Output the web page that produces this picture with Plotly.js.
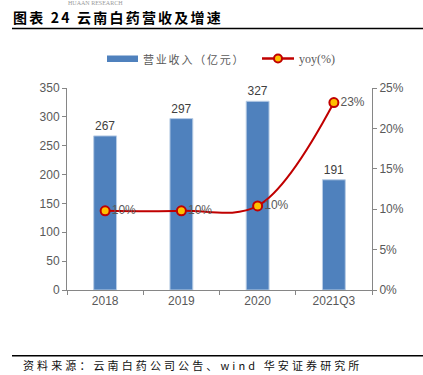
<!DOCTYPE html>
<html><head><meta charset="utf-8">
<script src="https://cdn.plot.ly/plotly-3.0.1.min.js"></script>
<style>html,body{margin:0;padding:0;background:#fff}#c{width:423px;height:375px}</style>
</head><body><div id="c"></div>
<script>
const categories = ['2018', '2019', '2020', '2021Q3'];
const revenue = [267, 297, 327, 191];
const yoy = [9.8, 9.8, 10.4, 23.2];
const yoyLabels = ['10%', '10%', '10%', '23%'];
const revenueName = '营业收入（亿元）';
const yoyName = 'yoy(%)';

const gray = '#595959';
const blue = '#4F81BD';
const red = '#C00000';
const data = [
  {type:'bar', x:categories, y:revenue, name:revenueName, width:0.3,
   marker:{color:blue, line:{color:'#B9CDE5', width:1}},
   text:revenue.map(String), textposition:'outside', cliponaxis:false,
   textfont:{family:'Liberation Sans, Arial', size:12, color:'#404040'}},
  {type:'scatter', x:categories, y:yoy, name:yoyName, yaxis:'y2',
   mode:'lines+markers+text', line:{color:red, width:2, shape:'spline'},
   marker:{color:'#FFC000', size:9, line:{color:red, width:2}},
   text:yoyLabels, textposition:'middle right', cliponaxis:false,
   textfont:{family:'Liberation Sans, Arial', size:12, color:gray}}
];
// paper coordinate helpers (plot area: x 67..372 px, y 88..290 px)
const px = v => (v - 67) / 305;
const py = v => (290 - v) / 202;
const layout = {
  width:423, height:375, margin:{l:67, r:51, t:88, b:85},
  paper_bgcolor:'#fff', plot_bgcolor:'#fff', showlegend:false,
  font:{family:'Liberation Sans, Arial, Noto Sans CJK SC', size:12, color:gray},
  title:{text:'HUAAN RESEARCH', x:68/423, xref:'container', xanchor:'left',
    y:1 - 2.8/375, yref:'container', yanchor:'middle',
    font:{family:'Liberation Serif', size:6, color:'#9a9a9a'}},
  xaxis:{type:'category', showline:true, linecolor:'#868686', linewidth:1,
    ticks:'outside', tickson:'boundaries', ticklen:4, tickcolor:'#868686',
    tickfont:{size:12, color:gray}, showgrid:false, zeroline:false},
  yaxis:{range:[0,350], dtick:50, showline:true, linecolor:'#868686', ticks:'outside',
    ticklen:4, tickcolor:'#868686', showgrid:false, zeroline:false,
    tickfont:{size:12, color:gray}},
  yaxis2:{range:[0,25], dtick:5, overlaying:'y', side:'right', ticksuffix:'%',
    showline:true, linecolor:'#868686', ticks:'outside', ticklen:4, tickcolor:'#868686',
    showgrid:false, zeroline:false, tickfont:{size:12, color:gray}},
  shapes:[
    {type:'line', xref:'paper', yref:'paper', x0:px(12), x1:px(423), y0:py(28.5), y1:py(28.5),
      line:{color:'#000', width:1.5}},
    {type:'line', xref:'paper', yref:'paper', x0:px(12), x1:px(423), y0:py(355.7), y1:py(355.7),
      line:{color:'#000', width:1.5}},
    // legend symbols
    {type:'rect', xref:'paper', yref:'paper', x0:px(107), x1:px(138), y0:py(62), y1:py(55.5),
      fillcolor:blue, line:{width:0}},
    {type:'line', xref:'paper', yref:'paper', x0:px(262), x1:px(294), y0:py(58.5), y1:py(58.5),
      line:{color:red, width:2.5}},
    {type:'circle', xref:'paper', yref:'paper', x0:px(274), x1:px(282), y0:py(62.5), y1:py(54.5),
      fillcolor:'#FFC000', line:{color:red, width:2}}
  ],
  annotations:[
    {text:'<b>图表 24 云南白药营收及增速</b>', xref:'paper', yref:'paper', align:'left',
      x:px(11), y:py(17), xanchor:'left', yanchor:'middle', showarrow:false,
      font:{family:'Noto Sans CJK SC', size:14, color:'#000'}},
    {text:'资料来源：云南白药公司公告、wind 华安证券研究所', xref:'paper', yref:'paper', align:'left',
      x:px(21), y:py(365), xanchor:'left', yanchor:'middle', showarrow:false,
      font:{family:'Noto Sans CJK SC', size:11, color:'#111'}},
    {text:revenueName, xref:'paper', yref:'paper', align:'left',
      x:px(141), y:py(58.5), xanchor:'left', yanchor:'middle', showarrow:false,
      font:{family:'Noto Sans CJK SC', size:11, color:gray}},
    {text:yoyName, xref:'paper', yref:'paper', align:'left',
      x:px(297), y:py(58.5), xanchor:'left', yanchor:'middle', showarrow:false,
      font:{family:'Liberation Serif', size:12, color:gray}}
  ]
};
const spacing = [2.2, 3.1, 1.8, 0];
Plotly.newPlot('c', data, layout, {displayModeBar:false, staticPlot:true}).then(gd => {
  gd.querySelectorAll('.annotation-text').forEach((el, i) => {
    if (spacing[i]) el.setAttribute('letter-spacing', spacing[i] + 'px');
  });
});
</script></body></html>
